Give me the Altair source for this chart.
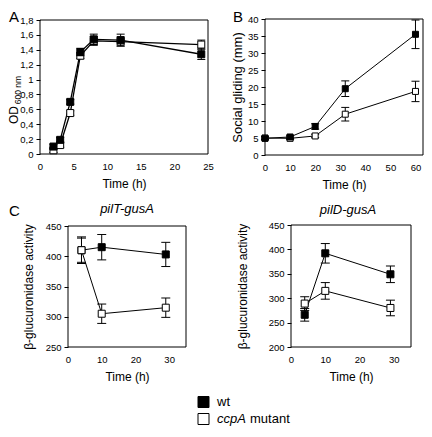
import altair as alt
import pandas as pd

FONT = "Liberation Sans"
SERIES = ["wt", "ccpA mutant"]

# ---------------- Panel A: growth (OD 600 nm) ----------------
a_time = [2, 3, 4.5, 6, 8, 12, 24]
a_wt = [0.10, 0.19, 0.70, 1.37, 1.54, 1.53, 1.34]
a_wt_err = [0.03, 0.03, 0.03, 0.05, 0.07, 0.08, 0.07]
a_mut = [0.05, 0.12, 0.55, 1.32, 1.52, 1.51, 1.47]
a_mut_err = [0.03, 0.03, 0.03, 0.04, 0.06, 0.06, 0.06]
a_xdom = [0, 25]
a_ydom = [0, 1.8]
a_xticks = [0, 5, 10, 15, 20, 25]
a_yticks = [0, 0.2, 0.4, 0.6, 0.8, 1, 1.2, 1.4, 1.6, 1.8]

# ---------------- Panel B: social gliding ----------------
b_time = [0, 10, 20, 32, 60]
b_wt = [4.9, 5.3, 8.4, 19.5, 35.5]
b_wt_err = [0.4, 0.5, 0.8, 2.3, 4.2]
b_mut = [5.0, 4.9, 5.6, 12.0, 18.7]
b_mut_err = [0.4, 0.4, 0.5, 2.0, 3.0]
b_xdom = [0, 63]
b_ydom = [0, 40]
b_xticks = [0, 10, 20, 30, 40, 50, 60]
b_yticks = [0, 5, 10, 15, 20, 25, 30, 35, 40]

# ---------------- Panel C: pilT-gusA ----------------
c1_time = [4, 10, 29]
c1_wt = [410, 415, 403]
c1_wt_err = [22, 21, 20]
c1_mut = [410, 305, 315]
c1_mut_err = [20, 16, 16]
c1_ydom = [250, 450]
c1_yticks = [250, 300, 350, 400, 450]

# ---------------- Panel C: pilD-gusA ----------------
c2_time = [4, 10, 29]
c2_wt = [266, 392, 349]
c2_wt_err = [13, 20, 17]
c2_mut = [289, 315, 280]
c2_mut_err = [14, 17, 16]
c2_ydom = [200, 450]
c2_yticks = [200, 250, 300, 350, 400, 450]

c_xdom = [0, 35]
c_xticks = [0, 10, 20, 30]

# ---------------- canvas layout (pixels) ----------------
W, H = 416, 418


def series_df(time, vals, errs):
    return pd.DataFrame({
        "t": time,
        "v": vals,
        "lo": [v - e for v, e in zip(vals, errs)],
        "hi": [v + e for v, e in zip(vals, errs)],
    })


def text_layer(label, x, y, size, angle=0, align="left", baseline="top", style="normal"):
    kw = dict(font=FONT, fontSize=size, color="black", align=align, baseline=baseline,
              fontStyle=style)
    if angle:
        kw["angle"] = angle
    return alt.Chart(pd.DataFrame({"label": [label]})).mark_text(**kw).encode(
        text="label:N", x=alt.value(x), y=alt.value(y))


def panel(series, xdom, xticks, ydom, yticks, box, ytitle, ytitle_pad,
          ytitle_size=12, ylabel_expr=None, marker=49, lw=1.0, cap=8):
    left, top, right, bottom = box
    xs = alt.Scale(domain=xdom, range=[left, right], nice=False, zero=False)
    ys = alt.Scale(domain=ydom, range=[bottom, top], nice=False, zero=False)
    xaxis = alt.Axis(orient="bottom", offset=bottom - H, values=xticks, title="Time (h)",
                     labelFlush=False, domain=False, ticks=False, tickSize=0,
                     labelPadding=7)
    ykw = dict(orient="left", offset=-left, values=yticks, title=ytitle,
               titlePadding=ytitle_pad, titleFontSize=ytitle_size, domain=False)
    if ylabel_expr:
        ykw["labelExpr"] = ylabel_expr
    yaxis = alt.Axis(**ykw)

    X = alt.X("t:Q", scale=xs, axis=xaxis)

    def Y(field):
        return alt.Y(f"{field}:Q", scale=ys, axis=yaxis)

    layers = []
    frame = alt.Chart(pd.DataFrame({"k": [0]})).mark_rect(
        fillOpacity=0, stroke="black", strokeWidth=1).encode(
        x=alt.XDatum(xdom[0], type="quantitative", scale=xs, axis=xaxis),
        x2=alt.X2Datum(xdom[1]),
        y=alt.YDatum(ydom[0], type="quantitative", scale=ys, axis=yaxis),
        y2=alt.Y2Datum(ydom[1]))
    layers.append(frame)
    for df, fill in series:
        layers.append(alt.Chart(df).mark_line(color="black", strokeWidth=lw).encode(
            x=X, y=Y("v")))
    for df, fill in series:
        base = alt.Chart(df)
        layers.append(base.mark_rule(color="black", strokeWidth=1).encode(
            x=X, y=Y("lo"), y2="hi:Q"))
        layers.append(base.mark_tick(color="black", orient="horizontal", size=cap,
                                     thickness=1, opacity=1).encode(x=X, y=Y("lo")))
        layers.append(base.mark_tick(color="black", orient="horizontal", size=cap,
                                     thickness=1, opacity=1).encode(x=X, y=Y("hi")))
        layers.append(base.mark_square(fill=fill, stroke="black", strokeWidth=1,
                                       size=marker, opacity=1).encode(x=X, y=Y("v")))
    return alt.layer(*layers)


panel_a = panel(
    [(series_df(a_time, a_mut, a_mut_err), "white"),
     (series_df(a_time, a_wt, a_wt_err), "black")],
    a_xdom, a_xticks, a_ydom, a_yticks, (32, 12, 200, 146), None, 0,
    ylabel_expr="replace(toString(datum.value), '.', ',')",
    marker=49, lw=1.3, cap=8)

panel_b = panel(
    [(series_df(b_time, b_mut, b_mut_err), "white"),
     (series_df(b_time, b_wt, b_wt_err), "black")],
    b_xdom, b_xticks, b_ydom, b_yticks, (257, 11, 415, 147), "Social gliding (mm)", 3,
    ytitle_size=13, marker=36, lw=1.0, cap=8)

panel_c1 = panel(
    [(series_df(c1_time, c1_wt, c1_wt_err), "black"),
     (series_df(c1_time, c1_mut, c1_mut_err), "white")],
    c_xdom, c_xticks, c1_ydom, c1_yticks, (60, 218, 178, 339),
    "\u03b2-glucuronidase activity", 10, ytitle_size=12, marker=49, lw=1.0, cap=9)

panel_c2 = panel(
    [(series_df(c2_time, c2_wt, c2_wt_err), "black"),
     (series_df(c2_time, c2_mut, c2_mut_err), "white")],
    c_xdom, c_xticks, c2_ydom, c2_yticks, (283, 217, 403, 339),
    "\u03b2-glucuronidase activity", 19, ytitle_size=12, marker=49, lw=1.0, cap=9)

# ---------------- custom legend ----------------
leg_y = alt.Y("series:N", scale=alt.Scale(domain=SERIES, range=[394, 411], padding=0),
              axis=None)
leg_sq_wt = alt.Chart(pd.DataFrame({"series": ["wt"]})).mark_square(
    fill="black", stroke="black", strokeWidth=1, size=121, opacity=1).encode(
    x=alt.value(195.5), y=leg_y)
leg_sq_mut = alt.Chart(pd.DataFrame({"series": ["ccpA mutant"]})).mark_square(
    fill="white", stroke="black", strokeWidth=1, size=121, opacity=1).encode(
    x=alt.value(195.5), y=leg_y)
leg_wt = alt.Chart(pd.DataFrame({"series": ["wt"], "label": ["wt"]})).mark_text(
    font=FONT, fontSize=13, align="left", baseline="middle", color="black").encode(
    x=alt.value(209), y=leg_y, text="label:N")
leg_ccpa = alt.Chart(pd.DataFrame({"series": ["ccpA mutant"], "label": ["ccpA"]})).mark_text(
    font=FONT, fontSize=13, fontStyle="italic", align="left", baseline="middle",
    color="black").encode(x=alt.value(209), y=leg_y, text="label:N")
leg_mut = alt.Chart(pd.DataFrame({"series": ["ccpA mutant"], "label": ["mutant"]})).mark_text(
    font=FONT, fontSize=13, align="left", baseline="middle", color="black").encode(
    x=alt.value(242), y=leg_y, text="label:N")
legend = alt.layer(leg_sq_wt, leg_sq_mut, leg_wt, leg_ccpa, leg_mut)

# ---------------- free texts ----------------
texts = [
    text_layer("A", 1, 2, 15),
    text_layer("B", 225, 2, 15),
    text_layer("C", 1, 196, 15),
    text_layer("OD", 10, 107, 12, angle=270, align="center", baseline="alphabetic"),
    text_layer("600 nm", 13, 82, 8.5, angle=270, align="center", baseline="alphabetic"),
    text_layer("pilT-gusA", 119, 205, 13, align="center", baseline="alphabetic",
               style="italic"),
    text_layer("pilD-gusA", 340, 206, 13, align="center", baseline="alphabetic",
               style="italic"),
]

chart = alt.layer(panel_a, panel_b, panel_c1, panel_c2, legend, *texts).resolve_scale(
    x="independent", y="independent"
).properties(
    width=W, height=H, padding=0
).configure_view(
    stroke="transparent"
).configure_axis(
    grid=False, labelFont=FONT, labelFontSize=9.5, labelColor="black",
    titleFont=FONT, titleFontSize=12, titleFontWeight="normal", titleColor="black",
    tickColor="black", tickSize=4, labelPadding=3
).configure_axisX(
    titlePadding=8
)

chart.save("out.html", embed_options={"renderer": "svg", "actions": False})
